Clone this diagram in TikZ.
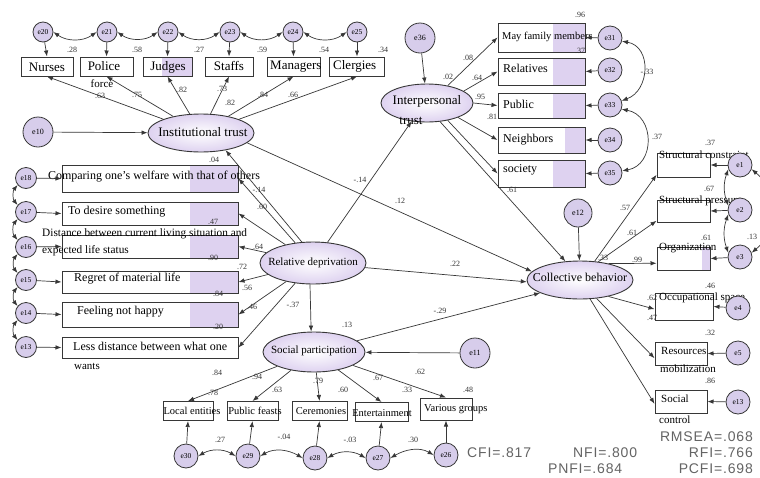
\documentclass[tikz,border=0pt]{standalone}
\usepackage{fontspec}
\setmainfont{Liberation Serif}
\newfontfamily\fitfont[LetterSpace=6]{Liberation Sans}
\usetikzlibrary{shapes.geometric,arrows.meta}
\definecolor{lav}{RGB}{222,210,240}
\definecolor{lavc}{RGB}{215,205,235}
\definecolor{ln}{RGB}{55,55,55}
\definecolor{fitc}{RGB}{100,100,100}
\newcommand\fntA{\fontsize{13}{14}\selectfont}
\newcommand\fntB{\fontsize{12}{13}\selectfont}
\newcommand\fntC{\fontsize{11}{12}\selectfont}
\newcommand\fntD{\fontsize{10.5}{11}\selectfont}
\newcommand\fntN{\fontsize{8}{9}\selectfont}
\newcommand\fntE{\fontsize{7.5}{8}\selectfont}
\begin{document}
\begin{tikzpicture}[x=1pt,y=-1pt,
 err/.style={circle,draw=ln,line width=0.8pt,fill=lavc,inner sep=0pt,minimum size=#1,font=\fntE},
 err/.default=22,
 lat/.style={ellipse,draw=ln,line width=0.9pt,inner color=white,outer color=lav,inner sep=0pt},
 obs/.style={rectangle,draw=ln,line width=1pt,fill=white,inner sep=0pt},
 hl/.style={path picture={\fill[lav] ([xshift=-#1]path picture bounding box.north east) rectangle (path picture bounding box.south east);}},
 hl/.default=16pt,
 arr/.style={-{Latex[length=6pt,width=4.5pt]},draw=ln,line width=0.7pt},
 cov/.style={{Latex[length=6pt,width=4.5pt]}-{Latex[length=6pt,width=4.5pt]},draw=ln,line width=0.7pt},
 num/.style={font=\fntN,inner sep=0pt,text=black!80},
 txt/.style={inner sep=0pt,font=\fntC},
 fit/.style={inner sep=0pt,font=\fitfont\fontsize{14}{15}\selectfont,text=fitc},
]
\useasboundingbox[fill=white] (0,0) rectangle (760,477);

% ---------- shapes ----------
% top boxes
\node[obs,minimum width=52,minimum height=19] (nur) at (47,66.5) {};
\node[obs,minimum width=53,minimum height=19] (pol) at (106.5,66.5) {};
\node[obs,hl=30pt,minimum width=49,minimum height=19] (jud) at (167.5,66.5) {};
\node[obs,minimum width=48,minimum height=19] (sta) at (229,66.5) {};
\node[obs,minimum width=53,minimum height=19] (man) at (293.5,66.5) {};
\node[obs,minimum width=55,minimum height=19] (cle) at (357,66.5) {};
% latent
\node[lat,minimum width=106,minimum height=38] (IT) at (201,133) {};
\node[lat,minimum width=92,minimum height=38] (IP) at (427,103) {};
\node[lat,minimum width=106,minimum height=42] (RD) at (313,263) {};
\node[lat,minimum width=102,minimum height=40] (SP) at (314,352) {};
\node[lat,minimum width=106,minimum height=38] (CB) at (580,280) {};
% interpersonal boxes
\node[obs,hl=32pt,minimum width=87,minimum height=29] (may) at (541.5,37.5) {};
\node[obs,hl=32pt,minimum width=87,minimum height=27] (rel) at (541.5,71.5) {};
\node[obs,hl=32pt,minimum width=87,minimum height=25] (pub) at (541.5,105.5) {};
\node[obs,hl=20pt,minimum width=87,minimum height=26] (nei) at (541.5,140) {};
\node[obs,hl=32pt,minimum width=87,minimum height=27] (soc) at (541.5,173.5) {};
% collective behaviour boxes
\node[obs,minimum width=53,minimum height=24] (sc) at (683.5,165) {};
\node[obs,minimum width=53,minimum height=22] (spb) at (683.5,211) {};
\node[obs,hl=8pt,minimum width=53,minimum height=23] (org) at (683.5,258.5) {};
\node[obs,minimum width=58,minimum height=27] (occ) at (684,306.5) {};
\node[obs,minimum width=52,minimum height=23] (res) at (681,353.5) {};
\node[obs,minimum width=52,minimum height=23] (scl) at (681,401.5) {};
% left boxes
\node[obs,hl=48pt,minimum width=176,minimum height=27] (b1) at (150,178.5) {};
\node[obs,hl=48pt,minimum width=176,minimum height=23] (b2) at (150,213.5) {};
\node[obs,hl=48pt,minimum width=176,minimum height=23] (b3) at (150,246.5) {};
\node[obs,hl=48pt,minimum width=176,minimum height=22] (b4) at (150,282) {};
\node[obs,hl=48pt,minimum width=176,minimum height=25] (b5) at (150,314.5) {};
\node[obs,minimum width=176,minimum height=21] (b6) at (150,347.5) {};
% bottom boxes
\node[obs,minimum width=50,minimum height=19] (le) at (188,411) {};
\node[obs,minimum width=51,minimum height=19] (pf) at (252.5,411) {};
\node[obs,minimum width=55,minimum height=19] (ce) at (319.5,411) {};
\node[obs,minimum width=53,minimum height=19] (en) at (381.5,412) {};
\node[obs,minimum width=52,minimum height=22] (vg) at (446,409) {};

% ---------- texts ----------
\node[txt,font=\fntA] (nurt) at (47,67) {Nurses};
\node[txt,font=\fntA] (polt) at (104,66) {Police};
\node[txt,font=\fntC] (polt2) at (102,84) {force};
\node[txt,font=\fntA] (judt) at (168,67) {Judges};
\node[txt,font=\fntA] (stat) at (229,66) {Staffs};
\node[txt,font=\fntA,anchor=west] (mant) at (270,67) {Managers};
\node[txt,font=\fntA,anchor=west] (clet) at (333,66) {Clergies};
\node[txt,font=\fntA] (ITt) at (203,132) {Institutional trust};
\node[txt,font=\fntA] (IPt) at (427,101) {Interpersonal};
\node[txt,font=\fntA] (IPt2) at (411,121) {trust};
\node[txt,font=\fntC] (RDt) at (313,263) {Relative deprivation};
\node[txt,font=\fntC] (SPt) at (314,351) {Social participation};
\node[txt,font=\fntB] (CBt) at (580,277) {Collective behavior};
\node[txt,font=\fntD,anchor=west] (mayt) at (502,37) {May family members};
\node[txt,font=\fntB,anchor=west] (relt) at (503,68) {Relatives};
\node[txt,font=\fntB,anchor=west] (pubt) at (503,104) {Public};
\node[txt,font=\fntB,anchor=west] (neit) at (503,140) {Neighbors};
\node[txt,font=\fntB,anchor=west] (soct) at (503,170) {society};
\node[txt,anchor=west] (sct) at (659,155) {Structural constraint};
\node[txt,anchor=west] (spbt) at (659,201) {Structural pressure};
\node[txt,anchor=west] (orgt) at (659,248) {Organization};
\node[txt,anchor=west] (occt) at (659,298) {Occupational space};
\node[txt,anchor=west] (rest) at (661,351) {Resources};
\node[txt,anchor=west] (rest2) at (660,369) {mobilization};
\node[txt,anchor=west] (sclt) at (661,399) {Social};
\node[txt,anchor=west] (sclt2) at (659,420) {control};
\node[txt,font=\fntB] (b1t) at (154,177) {Comparing one's welfare with that of others};
\node[txt,font=\fntB,anchor=west] (b2t) at (68,212) {To desire something};
\node[txt,font=\fontsize{11.3}{12}\selectfont,anchor=west] (b3t) at (42,234) {Distance between current living situation and};
\node[txt,font=\fontsize{11.3}{12}\selectfont,anchor=west] (b3t2) at (42,251) {expected life status};
\node[txt,font=\fntB,anchor=west] (b4t) at (74,279) {Regret of material life};
\node[txt,font=\fntB,anchor=west] (b5t) at (77,312) {Feeling not happy};
\node[txt,font=\fntB,anchor=west] (b6t) at (73,346) {Less distance between what one};
\node[txt,font=\fntC] (b6t2) at (87,366) {wants};
\node[txt,font=\fntD] (let) at (192,411) {Local entities};
\node[txt,font=\fntD] (pft) at (255,411) {Public feasts};
\node[txt,font=\fntD] (cet) at (321,411) {Ceremonies};
\node[txt,font=\fntD] (ent) at (382,413) {Entertainment};
\node[txt,font=\fntD,anchor=west] (vgt) at (424,409) {Various groups};

% ---------- error terms ----------
\node[err=20] (e20) at (43,32) {e20};
\node[err=20] (e21) at (107,32) {e21};
\node[err=20] (e22) at (168,32) {e22};
\node[err=20] (e23) at (230,32) {e23};
\node[err=20] (e24) at (293,32) {e24};
\node[err=20] (e25) at (357,32) {e25};
\node[err=30,font=\fntN] (e10) at (38,132) {e10};
\node[err=30,font=\fntN] (e36) at (420,38) {e36};
\node[err=24] (e31) at (610,38) {e31};
\node[err=24] (e32) at (610,70) {e32};
\node[err=24] (e33) at (610,105) {e33};
\node[err=24] (e34) at (610,140) {e34};
\node[err=24] (e35) at (610,173) {e35};
\node[err=28,font=\fntN] (e12) at (578,213) {e12};
\node[err=24] (e1) at (740,165) {e1};
\node[err=24] (e2) at (740,210) {e2};
\node[err=24] (e3) at (740,257) {e3};
\node[err=24] (e4) at (738,308) {e4};
\node[err=24] (e5) at (738,353) {e5};
\node[err=24] (e13r) at (738,402) {e13};
\node[err=21] (e18) at (26,178) {e18};
\node[err=21] (e17) at (26,212) {e17};
\node[err=21] (e16) at (26,247) {e16};
\node[err=21] (e15) at (26,280) {e15};
\node[err=21] (e14) at (26,313) {e14};
\node[err=21] (e13) at (26,347) {e13};
\node[err=30,font=\fntN] (e11) at (475,353) {e11};
\node[err=24] (e30) at (186,456) {e30};
\node[err=24] (e29) at (248,456) {e29};
\node[err=24] (e28) at (315,458) {e28};
\node[err=24] (e27) at (378,458) {e27};
\node[err=24] (e26) at (446,455) {e26};

% ---------- connectors ----------
% top
\foreach \e/\b in {e20/nur,e21/pol,e22/jud,e23/sta,e24/man,e25/cle}{\draw[arr] (\e) -- (\b.north);}
\foreach \a/\b in {e20/e21,e21/e22,e22/e23,e23/e24,e24/e25}{\draw[cov] (\a.east) to[out=-35,in=-145] (\b.west);}
\foreach \b in {nur,pol,jud,sta,man,cle}{\draw[arr] (IT) -- (\b.south);}
\draw[arr] (e10) -- (IT);
% interpersonal
\draw[arr] (e36) -- (IP);
\draw[arr] (IP.40) -- (may.west);
\draw[arr] (IP.18) -- (rel.west);
\draw[arr] (IP.0) -- (pub.west);
\draw[arr] (IP.-25) -- (nei.west);
\draw[arr] (IP.-40) -- (soc.west);
\foreach \e/\b in {e31/may,e32/rel,e33/pub,e34/nei,e35/soc}{\draw[arr] (\e) -- (\b.east);}
\draw[cov] (e31.-15) to[out=-10,in=20,looseness=1.3] (e33.20);
\draw[cov] (e33.-20) to[out=-10,in=10,looseness=1.4] (e35.10);
% collective behaviour
\draw[arr] (e12) -- (CB);
\draw[arr] (CB.52) -- (sc.200);
\draw[arr] (CB.45) -- (spb.200);
\draw[arr] (CB.30) -- (org.190);
\draw[arr] (CB.-30) -- (occ.185);
\draw[arr] (CB.-48) -- (res.190);
\draw[arr] (CB.-62) -- (scl.185);
\foreach \e/\b in {e1/sc,e2/spb,e3/org,e4/occ,e5/res,e13r/scl}{\draw[arr] (\e) -- (\b.east);}
\draw[cov] (e1.200) to[out=250,in=110] (e2.160);
\draw[cov] (e2.200) to[out=250,in=110] (e3.160);
\draw[cov] (e1.-20) to[out=-40,in=40,looseness=1.2] (e3.20);
% left side
\foreach \e/\b in {e18/b1,e17/b2,e16/b3,e15/b4,e14/b5,e13/b6}{\draw[arr] (\e) -- (\b.west);}
\foreach \a/\b in {e18/e17,e17/e16,e16/e15,e15/e14,e14/e13}{\draw[cov] (\a.220) to[out=230,in=130] (\b.140);}
\foreach \b in {b1,b2,b3,b4,b5,b6}{\draw[arr] (RD) -- (\b.east);}
% structural paths
\draw[arr] (RD.118) -- (IT.-35);
\draw[arr] (RD.55) -- (IP.-130);
\draw[arr] (IT.-12) -- (CB.170);
\draw[arr] (RD) -- (CB.182);
\draw[arr] (IP.-55) -- (CB.128);
\draw[arr] (SP) -- (CB.198);
\draw[arr] (RD.-98) -- (SP.98);
\draw[arr] (e11) -- (SP);
% social participation
\foreach \b in {le,pf,ce,en,vg}{\draw[arr] (SP) -- (\b.north);}
\foreach \e/\b in {e30/le,e29/pf,e28/ce,e27/en,e26/vg}{\draw[arr] (\e) -- (\b.south);}
\foreach \a/\b in {e30/e29,e29/e28,e28/e27,e27/e26}{\draw[cov] (\a.east) to[out=30,in=150] (\b.west);}

% ---------- numbers ----------
\node[num] (n1) at (72,50) {.28};
\node[num] (n2) at (137,50) {.58};
\node[num] (n3) at (199,50) {.27};
\node[num] (n4) at (262,50) {.59};
\node[num] (n5) at (324,50) {.54};
\node[num] (n6) at (383,50) {.34};
\node[num] (n7) at (100,96) {.63};
\node[num] (n8) at (137,95) {.75};
\node[num] (n9) at (182,90) {.82};
\node[num] (n10) at (222,89) {.73};
\node[num] (n11) at (230,103) {.82};
\node[num] (n12) at (263,95) {.84};
\node[num] (n13) at (293,95) {.66};
\node[num] (n14) at (214,160) {.04};
\node[num] (n15) at (448,77) {.02};
\node[num] (n16) at (468,58) {.08};
\node[num] (n17) at (477,78) {.64};
\node[num] (n18) at (480,97) {.95};
\node[num] (n19) at (492,117) {.81};
\node[num] (n20) at (580,15) {.96};
\node[num] (n21) at (580,51) {.37};
\node[num] (n22) at (512,190) {.61};
\node[num] (n23) at (647,72) {-.33};
\node[num] (n24) at (657,137) {.37};
\node[num] (n25) at (710,143) {.37};
\node[num] (n26) at (625,208) {.57};
\node[num] (n27) at (632,233) {.61};
\node[num] (n28) at (603,258) {.33};
\node[num] (n29) at (637,260) {.99};
\node[num] (n30) at (709,189) {.67};
\node[num] (n31) at (706,238) {.61};
\node[num] (n32) at (752,237) {.13};
\node[num] (n33) at (710,286) {.46};
\node[num] (n34) at (652,298) {.62};
\node[num] (n35) at (652,318) {.47};
\node[num] (n36) at (710,333) {.32};
\node[num] (n37) at (710,381) {.86};
\node[num] (n38) at (259,190) {-.14};
\node[num] (n39) at (262,207) {.60};
\node[num] (n40) at (213,222) {.47};
\node[num] (n41) at (213,258) {.90};
\node[num] (n42) at (258,247) {.64};
\node[num] (n43) at (242,267) {.72};
\node[num] (n44) at (247,288) {.56};
\node[num] (n45) at (218,294) {.84};
\node[num] (n46) at (252,307) {.46};
\node[num] (n47) at (218,327) {.20};
\node[num] (n48) at (360,180) {-.14};
\node[num] (n49) at (400,201) {.12};
\node[num] (n50) at (455,264) {.22};
\node[num] (n51) at (293,305) {-.37};
\node[num] (n52) at (440,311) {-.29};
\node[num] (n53) at (347,325) {.13};
\node[num] (n54) at (217,373) {.84};
\node[num] (n55) at (257,377) {.94};
\node[num] (n56) at (318,381) {.79};
\node[num] (n57) at (378,378) {.67};
\node[num] (n58) at (420,372) {.62};
\node[num] (n59) at (213,393) {.78};
\node[num] (n60) at (277,390) {.63};
\node[num] (n61) at (343,390) {.60};
\node[num] (n62) at (407,390) {.33};
\node[num] (n63) at (468,390) {.48};
\node[num] (n64) at (220,440) {.27};
\node[num] (n65) at (284,437) {-.04};
\node[num] (n66) at (350,440) {-.03};
\node[num] (n67) at (413,440) {.30};

% ---------- fit indices ----------
\node[fit,anchor=east] (rmsea) at (753,437) {RMSEA=.068};
\node[fit,anchor=west] (cfi) at (467,453) {CFI=.817};
\node[fit,anchor=west] (nfi) at (573,453) {NFI=.800};
\node[fit,anchor=east] (rfi) at (753,453) {RFI=.766};
\node[fit,anchor=west] (pnfi) at (548,469) {PNFI=.684};
\node[fit,anchor=east] (pcfi) at (753,469) {PCFI=.698};
\end{tikzpicture}
\end{document}
